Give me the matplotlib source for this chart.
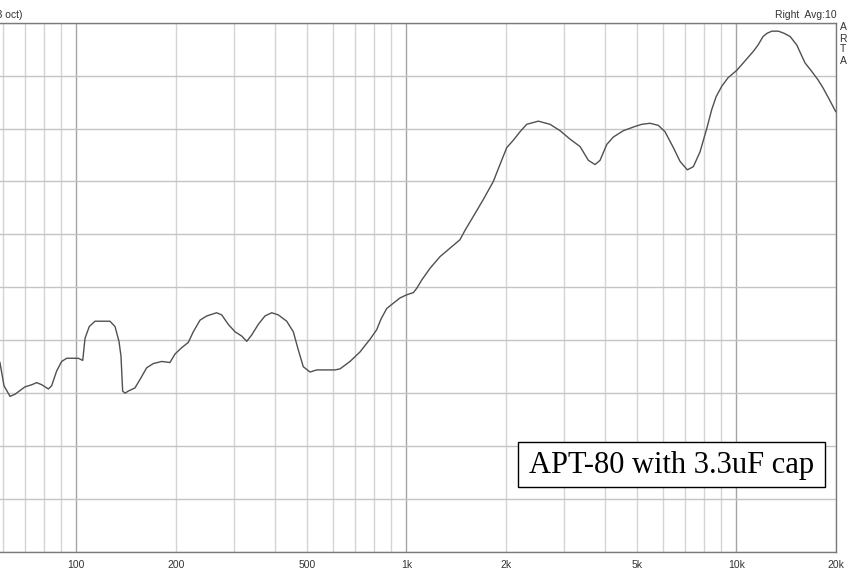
import numpy as np
import matplotlib.pyplot as plt
from matplotlib.ticker import FixedLocator, FuncFormatter
from matplotlib.patches import Rectangle

# Smoothed frequency response (Hz, dB)
freq = [58.7, 60.4, 63.0, 65.2, 69.9, 73.3, 75.9, 78.6, 82.3, 84.2,
        87.2, 90.3, 93.5, 101.4, 104.6, 106.3, 109.5, 113.9, 126.5, 131.0,
        134.7, 136.6, 138.2, 140.5, 143.7, 150.6, 156.0, 163.4, 171.1, 181.5,
        192.2, 199.1, 208.6, 218.5, 226.2, 237.1, 248.5, 266.3, 275.8, 288.8,
        302.7, 317.1, 328.5, 340.0, 356.0, 373.1, 390.9, 409.4, 434.1, 454.6,
        470.6, 487.3, 510.8, 535.1, 608.0, 629.7, 675.2, 724.0, 776.3, 813.4,
        837.9, 872.2, 913.2, 957.0, 1003, 1050, 1075, 1114, 1180, 1265,
        1356, 1454, 1507, 1596, 1711, 1835, 1922, 2015, 2110, 2211,
        2316, 2512, 2726, 2923, 3134, 3361, 3561, 3731, 3864, 4049,
        4240, 4547, 4932, 5168, 5476, 5802, 6080, 6443, 6751, 7104,
        7408, 7762, 8134, 8424, 8680, 9033, 9437, 10030, 10630, 11260,
        11640, 12050, 12390, 12810, 13410, 13950, 14550, 15240, 15710, 16150,
        16920, 17680, 18340, 19090, 20000]
spl = [67.9, 65.7, 64.7, 64.9, 65.6, 65.8, 66.0, 65.8, 65.4, 65.7,
       67.1, 68.0, 68.3, 68.3, 68.1, 70.2, 71.3, 71.8, 71.8, 71.3,
       69.9, 68.5, 65.2, 65.0, 65.2, 65.5, 66.3, 67.4, 67.8, 68.0,
       67.9, 68.7, 69.3, 69.8, 70.8, 71.9, 72.3, 72.6, 72.4, 71.5,
       70.8, 70.4, 69.9, 70.5, 71.5, 72.3, 72.6, 72.4, 71.8, 70.8,
       69.1, 67.5, 67.0, 67.2, 67.2, 67.3, 68.0, 68.9, 70.1, 71.0,
       72.0, 73.0, 73.5, 74.0, 74.3, 74.5, 74.9, 75.7, 76.8, 77.9,
       78.7, 79.5, 80.4, 81.7, 83.3, 85.0, 86.6, 88.2, 88.9, 89.7,
       90.4, 90.7, 90.4, 89.8, 89.0, 88.3, 87.0, 86.6, 87.0, 88.5,
       89.2, 89.8, 90.2, 90.4, 90.5, 90.3, 89.7, 88.2, 86.9, 86.1,
       86.4, 87.8, 90.0, 91.8, 93.0, 94.0, 94.8, 95.5, 96.4, 97.3,
       97.9, 98.7, 99.0, 99.2, 99.2, 99.0, 98.7, 97.9, 97.0, 96.2,
       95.4, 94.6, 93.8, 92.8, 91.6]

decades = [100, 1000, 10000]
grid_freqs = [m * 10 ** k for k in range(1, 5) for m in range(2, 10)
              if 20 <= m * 10 ** k <= 20000]
labels = {100: "100", 200: "200", 500: "500", 1000: "1k", 2000: "2k",
          5000: "5k", 10000: "10k", 20000: "20k"}
db_ticks = list(range(50, 101, 5))

W, H = 859, 574
fig = plt.figure(figsize=(W / 100, H / 100), dpi=100)
plt.rcParams['font.family'] = ['Liberation Sans', 'DejaVu Sans']

# plot area spans 20 Hz .. 20 kHz, its left part runs off the image
x0, x1 = -154.4, 835.7
y_top, y_bot = 22.7, 552.0
ax = fig.add_axes([x0 / W, 1 - y_bot / H, (x1 - x0) / W, (y_bot - y_top) / H])

ax.semilogx(freq, spl, color='#505050', lw=1.0, zorder=3)
ax.set_xlim(20, 20000)
ax.set_ylim(50, 100)

ax.xaxis.set_major_locator(FixedLocator(decades))
ax.xaxis.set_minor_locator(FixedLocator(grid_freqs))
fmt = FuncFormatter(lambda v, p: labels.get(int(round(v)), ""))
ax.xaxis.set_major_formatter(fmt)
ax.xaxis.set_minor_formatter(fmt)
ax.set_yticks(db_ticks)
ax.set_yticklabels([])
ax.tick_params(axis='both', which='both', length=0, labelsize=7.5,
               labelcolor='#333333', pad=6)

ax.grid(True, which='major', axis='x', color='#a4a4a4', lw=1.0)
ax.grid(True, which='minor', axis='x', color='#d4d4d4', lw=1.0)
ax.grid(True, which='major', axis='y', color='#c4c4c4', lw=1.0)
for s in ax.spines.values():
    s.set_color('#7a7a7a')
    s.set_linewidth(1.0)

fig.text(22.7 / W, 1 - 15.5 / H, "dBr - Frequency response (1/3 oct)",
         ha='right', va='center', fontsize=7.5, color='#333333')
fig.text(837 / W, 1 - 15.5 / H, "Right  Avg:10",
         ha='right', va='center', fontsize=7.5, color='#333333')
for i, ch in enumerate("ARTA"):
    fig.text(843 / W, 1 - (27.5 + i * 11) / H, ch,
             ha='center', va='center', fontsize=7.5, color='#333333')

# caption box
bx0, bx1, by0, by1 = 518, 825, 442, 487
fig.patches.append(Rectangle((bx0 / W, 1 - by1 / H), (bx1 - bx0) / W,
                             (by1 - by0) / H, transform=fig.transFigure,
                             facecolor='white', edgecolor='black', lw=1.0,
                             zorder=5))
fig.text((bx0 + bx1) / 2 / W, 1 - 466 / H, "APT-80 with 3.3uF cap",
         ha='center', va='center', fontsize=22, family='Liberation Serif',
         color='black', zorder=6)

fig.savefig("out.png", dpi=100)
